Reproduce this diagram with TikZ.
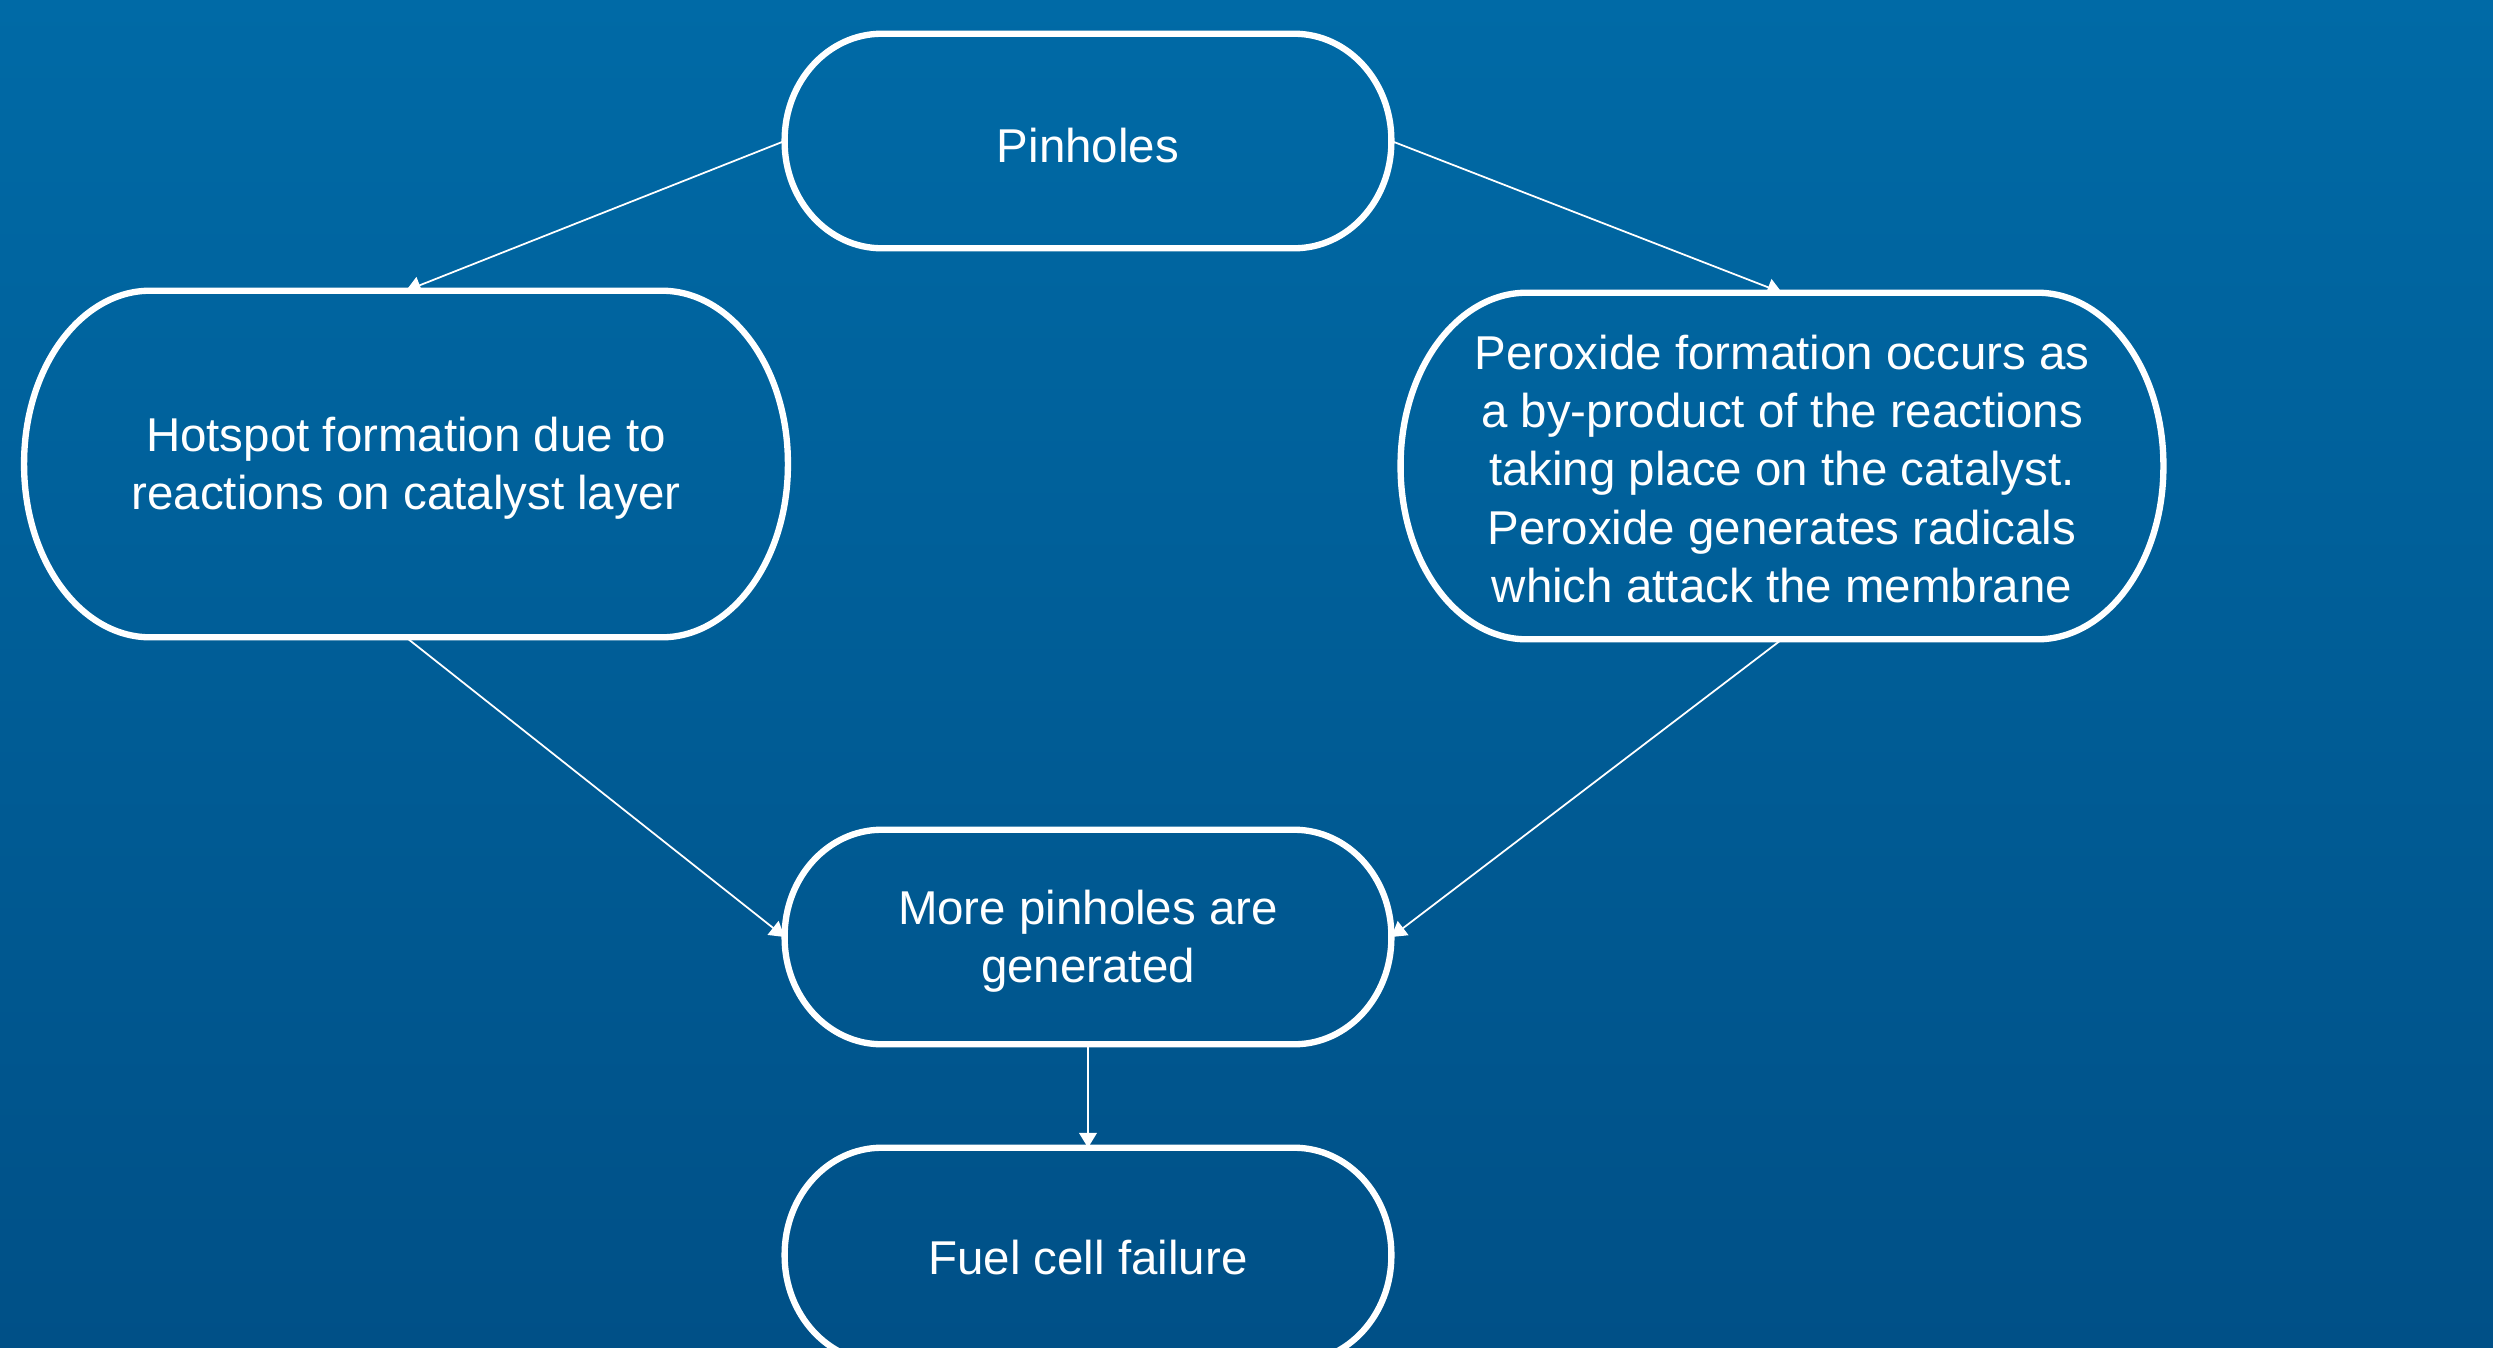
\documentclass[tikz,border=0pt]{standalone}
\usepackage{fontspec}
\setmainfont{Liberation Sans}
\usetikzlibrary{arrows.meta}
\definecolor{bgtop}{RGB}{0,106,166}
\definecolor{bgbot}{RGB}{0,80,135}
\tikzset{
  capsule/.style={draw=none, inner sep=0pt},
  txt/.style={inner sep=0pt, text=white, align=center,
    font=\fontsize{13.5pt}{16.5pt}\selectfont},
  boxline/.style={draw=white, line width=1.8pt},
  conn/.style={draw=white, line width=0.5pt, -{Triangle[length=4.2pt,width=5pt]}}
}
\newcommand\capsulebox[3]{%
  \draw[boxline] ([xshift=#2]#1.north west) -- ([xshift=-#2]#1.north east)
    arc[start angle=90,end angle=0,x radius=#2,y radius=#3]
    -- ([yshift=#3]#1.south east)
    arc[start angle=0,end angle=-90,x radius=#2,y radius=#3]
    -- ([xshift=#2]#1.south west)
    arc[start angle=270,end angle=180,x radius=#2,y radius=#3]
    -- ([yshift=-#3]#1.north west)
    arc[start angle=180,end angle=90,x radius=#2,y radius=#3] -- cycle;}
\begin{document}
\begin{tikzpicture}[x=0.01cm,y=-0.01cm]
\shade[top color=bgtop, bottom color=bgbot] (0,0) rectangle (2493,1348);
\useasboundingbox (0,0) rectangle (2493,1348);

\node[capsule, minimum width=6.05cm, minimum height=2.13cm] (pin) at (1088,141) {};
\node[capsule, minimum width=7.62cm, minimum height=3.45cm] (hot) at (406,464) {};
\node[capsule, minimum width=7.61cm, minimum height=3.45cm] (per) at (1782,466) {};
\node[capsule, minimum width=6.05cm, minimum height=2.13cm] (more) at (1088,937) {};
\node[capsule, minimum width=6.05cm, minimum height=2.13cm] (fuel) at (1088,1255) {};

\node[txt] (pint) at ([yshift=-0.045cm]pin.center) {Pinholes};
\node[txt] (hott) at ([yshift=-0.045cm]hot.center) {Hotspot formation due to\\reactions on catalyst layer};
\node[txt] (pert) at ([yshift=-0.03cm]per.center) {Peroxide formation occurs as\\a by-product of the reactions\\taking place on the catalyst.\\Peroxide generates radicals\\which attack the membrane};
\node[txt] (moret) at ([yshift=-0.045cm]more.center) {More pinholes are\\generated};
\node[txt] (fuelt) at ([yshift=-0.03cm]fuel.center) {Fuel cell failure};

\capsulebox{pin}{0.97cm}{1.065cm}
\capsulebox{hot}{1.26cm}{1.725cm}
\capsulebox{per}{1.26cm}{1.725cm}
\capsulebox{more}{0.97cm}{1.065cm}
\capsulebox{fuel}{0.97cm}{1.065cm}

\draw[conn] (pin.west) -- (hot.north);
\draw[conn] (pin.east) -- (per.north);
\draw[conn] (hot.south) -- (more.west);
\draw[conn] (per.south) -- (more.east);
\draw[conn] (more.south) -- (fuel.north);
\end{tikzpicture}
\end{document}
